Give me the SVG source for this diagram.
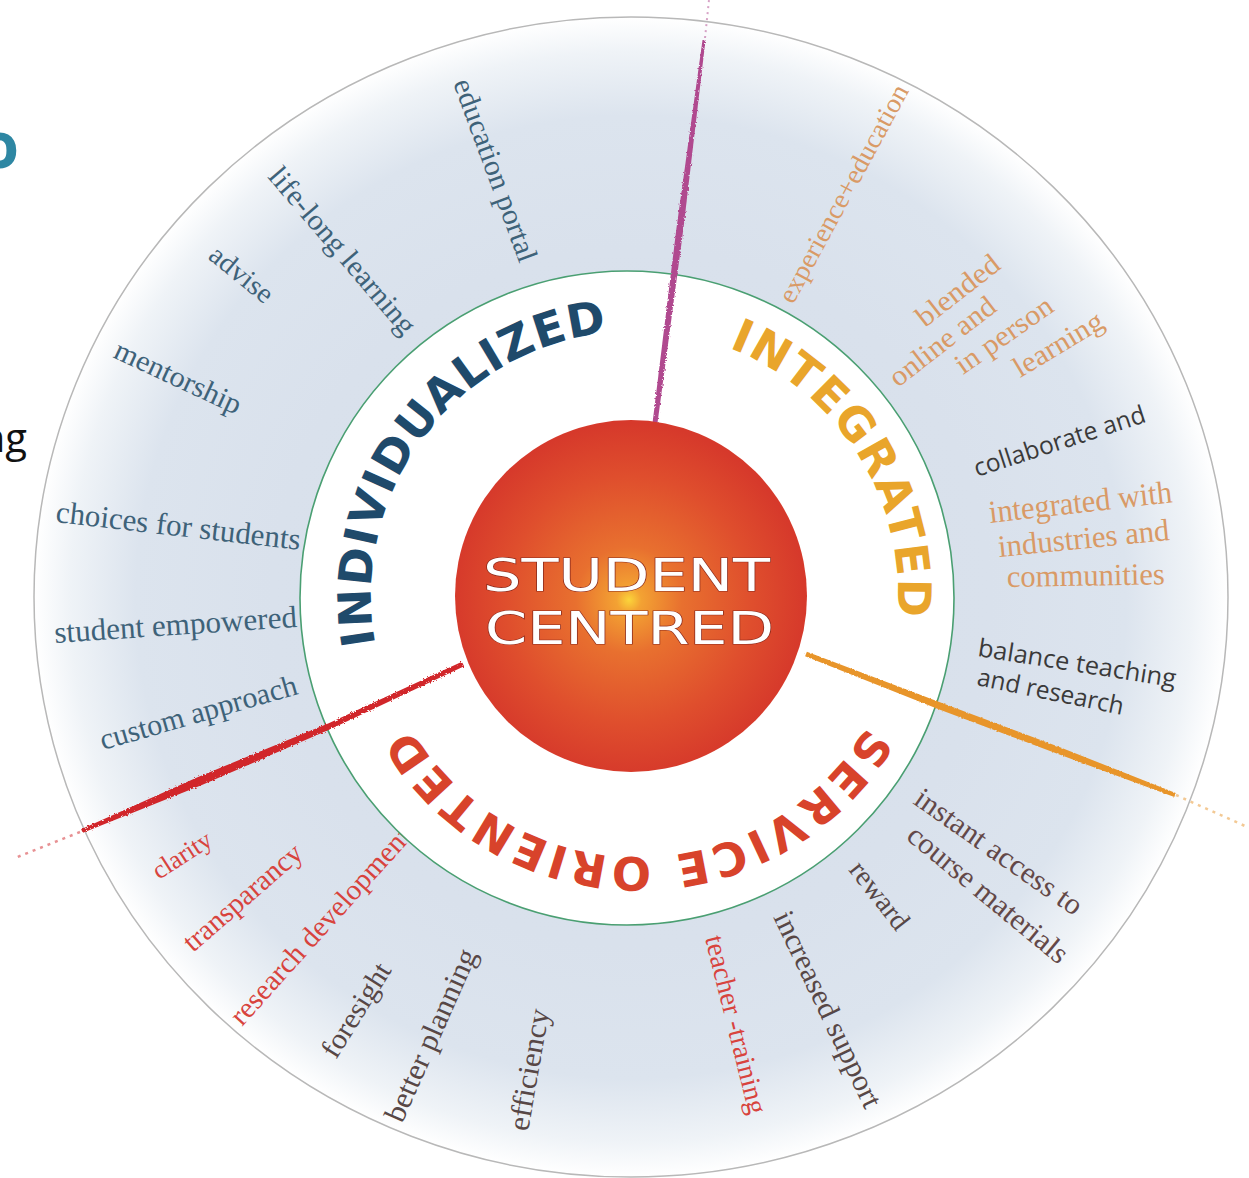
<svg xmlns="http://www.w3.org/2000/svg" width="1249" height="1178" viewBox="0 0 1249 1178">
<defs>
<radialGradient id="ringGrad" cx="0.5" cy="0.5" r="0.5">
<stop offset="0" stop-color="#d6dfea"/>
<stop offset="0.6" stop-color="#d9e1ec"/>
<stop offset="0.83" stop-color="#dce4ee"/>
<stop offset="0.94" stop-color="#eff3f7"/>
<stop offset="1" stop-color="#ffffff"/>
</radialGradient>
<radialGradient id="ballGrad" gradientUnits="userSpaceOnUse" cx="629" cy="600" r="177">
<stop offset="0" stop-color="#fbd53a"/>
<stop offset="0.07" stop-color="#f3a233"/>
<stop offset="0.3" stop-color="#e8702f"/>
<stop offset="0.7" stop-color="#df4e2d"/>
<stop offset="1" stop-color="#d6392b"/>
</radialGradient>
<filter id="rough" x="-5%" y="-5%" width="110%" height="110%">
<feTurbulence type="fractalNoise" baseFrequency="0.6" numOctaves="2" seed="3"/>
<feDisplacementMap in="SourceGraphic" scale="3"/>
</filter>
<path id="arcInd" d="M375.4,644.3 A265,265 0 0 1 896.6,547.7 A265,265 0 0 1 375.4,644.3"/>
<path id="arcInt" d="M728.8,347.8 A265,265 0 0 1 543.2,844.2 A265,265 0 0 1 728.8,347.8"/>
<path id="arcSer" d="M866.6,726.5 A265,265 0 0 1 405.4,465.5 A265,265 0 0 1 866.6,726.5"/>
<style>
.lbl{font-family:"Liberation Serif","Times New Roman",serif;}
.sans{font-family:"Open Sans","Liberation Sans",sans-serif;}
.blue{fill:#3e6279;}
.red{fill:#d8433d;}
.brown{fill:#574746;}
.rose{fill:#634848;}
.tan{fill:#d99a66;}
.gray{fill:#3a3a3a;}
.arc{font-family:"DejaVu Sans","Verdana",sans-serif;font-weight:bold;font-size:46px;}
.core{font-family:"DejaVu Sans","Verdana",sans-serif;font-size:45px;fill:#ffffff;stroke:#8a2a1c;stroke-width:1.2;paint-order:stroke;}
</style>
</defs>

<rect width="1249" height="1178" fill="#ffffff"/>

<!-- slide fragments at left edge -->
<text x="19" y="168" text-anchor="end" font-family="Open Sans, Liberation Sans, sans-serif" font-weight="bold" font-size="64" fill="#2e87a3">o</text>
<text x="27" y="452" text-anchor="end" font-family="Open Sans, Liberation Sans, sans-serif" font-size="40" fill="#111111">ng</text>

<g id="outer-ring">
<ellipse cx="631" cy="597" rx="597" ry="580" fill="url(#ringGrad)" stroke="#b8b8b8" stroke-width="1.5"/>
</g>

<g id="labels-individualized" class="lbl blue">
<text id="lbl-education-portal" font-size="29.5" transform="translate(453 83) rotate(69.8)" textLength="193" lengthAdjust="spacingAndGlyphs">education portal</text>
<text id="lbl-life-long" font-size="29.5" transform="translate(267 177) rotate(49.5)" textLength="210" lengthAdjust="spacingAndGlyphs">life-long learning</text>
<text id="lbl-advise" font-size="28" transform="translate(207 258) rotate(39)" textLength="74" lengthAdjust="spacingAndGlyphs">advise</text>
<text id="lbl-mentorship" font-size="29.5" transform="translate(112 357) rotate(25)" textLength="137" lengthAdjust="spacingAndGlyphs">mentorship</text>
<text id="lbl-choices" font-size="31" transform="translate(55 522) rotate(6.5)" textLength="246" lengthAdjust="spacingAndGlyphs">choices for students</text>
<text id="lbl-empowered" font-size="31" transform="translate(55 643) rotate(-3.8)" textLength="243" lengthAdjust="spacingAndGlyphs">student empowered</text>
<text id="lbl-custom" font-size="30" transform="translate(103 750) rotate(-16)" textLength="204" lengthAdjust="spacingAndGlyphs">custom approach</text>
</g>

<g id="labels-service" class="lbl">
<text id="lbl-clarity" class="red" font-size="26" transform="translate(159 880) rotate(-33)" textLength="65.5" lengthAdjust="spacingAndGlyphs">clarity</text>
<text id="lbl-transparancy" class="red" font-size="29" transform="translate(193 953) rotate(-41)" textLength="148" lengthAdjust="spacingAndGlyphs">transparancy</text>
<text id="lbl-research-dev" class="red" font-size="29" transform="translate(242 1027) rotate(-48)" textLength="255" lengthAdjust="spacingAndGlyphs">research development</text>
<text id="lbl-foresight" class="brown" font-size="29" transform="translate(336 1060) rotate(-58)" textLength="106" lengthAdjust="spacingAndGlyphs">foresight</text>
<text id="lbl-better-planning" class="brown" font-size="30" transform="translate(402 1124) rotate(-66)" textLength="186" lengthAdjust="spacingAndGlyphs">better planning</text>
<text id="lbl-efficiency" class="brown" font-size="30" transform="translate(528 1132) rotate(-80)" textLength="123" lengthAdjust="spacingAndGlyphs">efficiency</text>
<text id="lbl-teacher-training" class="red" font-size="28" transform="translate(705 938) rotate(76)" textLength="183" lengthAdjust="spacingAndGlyphs">teacher -training</text>
<text id="lbl-increased-support" class="brown" font-size="30" transform="translate(773 917) rotate(64.5)" textLength="214" lengthAdjust="spacingAndGlyphs">increased support</text>
<text id="lbl-reward" class="brown" font-size="28.5" transform="translate(848 870) rotate(52)" textLength="79" lengthAdjust="spacingAndGlyphs">reward</text>
<g id="lbl-instant-access" class="rose">
<text font-size="30" transform="translate(912 803) rotate(35)" textLength="198" lengthAdjust="spacingAndGlyphs">instant access to</text>
<text font-size="30" transform="translate(905 838.5) rotate(39.5)" textLength="199" lengthAdjust="spacingAndGlyphs">course materials</text>
</g>
</g>

<g id="labels-integrated" class="lbl">
<text id="lbl-experience" class="tan" font-size="27" transform="translate(793 305) rotate(-61.5)" textLength="244" lengthAdjust="spacingAndGlyphs">experience+education</text>
<g id="lbl-blended" class="tan">
<text font-size="29" transform="translate(925 328) rotate(-38)" textLength="98" lengthAdjust="spacingAndGlyphs">blended</text>
<text font-size="29" transform="translate(898 388) rotate(-38)" textLength="127" lengthAdjust="spacingAndGlyphs">online and</text>
<text font-size="29" transform="translate(963 375) rotate(-35)" textLength="113" lengthAdjust="spacingAndGlyphs">in person</text>
<text font-size="29" transform="translate(1020 378) rotate(-31)" textLength="100" lengthAdjust="spacingAndGlyphs">learning</text>
</g>
<text id="lbl-collaborate" class="sans gray" font-size="25" transform="translate(977 477) rotate(-18)" textLength="179" lengthAdjust="spacingAndGlyphs">collaborate and</text>
<g id="lbl-integrated-with" class="tan">
<text font-size="32" transform="translate(990 523) rotate(-6.5)" textLength="184" lengthAdjust="spacingAndGlyphs">integrated with</text>
<text font-size="31" transform="translate(999 557) rotate(-5.7)" textLength="172" lengthAdjust="spacingAndGlyphs">industries and</text>
<text font-size="31" transform="translate(1007 587) rotate(-1)" textLength="158" lengthAdjust="spacingAndGlyphs">communities</text>
</g>
<g id="lbl-balance" class="sans gray">
<text font-size="25" transform="translate(977 656) rotate(9)" textLength="200" lengthAdjust="spacingAndGlyphs">balance teaching</text>
<text font-size="25" transform="translate(976 685) rotate(11.6)" textLength="149" lengthAdjust="spacingAndGlyphs">and research</text>
</g>
</g>

<g id="inner-ring">
<circle cx="627" cy="598" r="327" fill="#ffffff" stroke="#4a9f72" stroke-width="1.6"/>
</g>

<g id="connectors">
<path id="line-magenta" filter="url(#rough)" d="M652.5,423 L676.5,228 L702.5,40 L705.5,40 L683.5,228 L657.5,423 Z" fill="#b0498f"/>
<path d="M705,38 L709,0" stroke="#b0498f" stroke-width="2" stroke-dasharray="2 4" opacity="0.5"/>
<path id="line-red" filter="url(#rough)" d="M461.9,661.8 L328.7,723.3 L198.1,776.9 L81.1,829.2 L82.9,832.8 L201.9,785.1 L331.3,728.7 L464.1,666.3 Z" fill="#d1252a"/>
<path d="M80,832 L15,858" stroke="#d1252a" stroke-width="2.5" stroke-dasharray="3 5" opacity="0.5"/>
<path id="line-orange" filter="url(#rough)" d="M806.9,651.7 L941.3,702.7 L1061.3,747.7 L1175.7,793.1 L1174.3,796.9 L1058.7,754.3 L938.7,709.3 L805.1,656.3 Z" fill="#e8952c"/>
<path d="M1176,795 L1245,826" stroke="#e8952c" stroke-width="2.5" stroke-dasharray="3 5" opacity="0.5"/>
</g>

<g id="individualized" class="arc" fill="#1f4a6b" letter-spacing="1">
<text><textPath href="#arcInd">INDIVI</textPath></text>
<text><textPath href="#arcInd" startOffset="169.6">DUALIZED</textPath></text>
</g>
<g id="integrated" class="arc" fill="#e9a52b" letter-spacing="1.7">
<text><textPath href="#arcInt">INTEG</textPath></text>
<text><textPath href="#arcInt" startOffset="164.7">RATED</textPath></text>
</g>
<g id="service-oriented">
<text class="arc" fill="#d8432b" letter-spacing="3.5"><textPath href="#arcSer">SERVICE ORIENTED</textPath></text>
</g>

<g id="student-centred">
<circle cx="631" cy="596" r="176" fill="url(#ballGrad)"/>
<text class="core" x="483" y="591" textLength="287" lengthAdjust="spacingAndGlyphs">STUDENT</text>
<text class="core" x="485" y="644" textLength="289" lengthAdjust="spacingAndGlyphs">CENTRED</text>
</g>
</svg>
